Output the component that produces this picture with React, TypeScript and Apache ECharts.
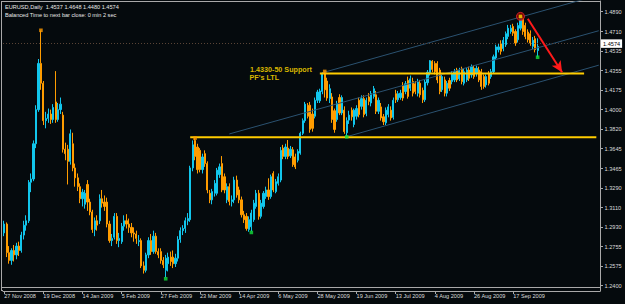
import React, { useEffect, useRef } from "react";
import * as echarts from "echarts";

// ---------- data ----------
const symbolTitle = "EURUSD,Daily  1.4537 1.4648 1.4480 1.4574";
const timerTitle = "Balanced Time to next bar close: 0 min 2 sec";
const dateLabels = [
  "27 Nov 2008", "19 Dec 2008", "14 Jan 2009", "5 Feb 2009", "27 Feb 2009",
  "23 Mar 2009", "14 Apr 2009", "6 May 2009", "28 May 2009", "19 Jun 2009",
  "13 Jul 2009", "4 Aug 2009", "26 Aug 2009", "17 Sep 2009",
];
const BARS_PER_LABEL = 16;
const SLOT_COUNT = 244; // daily bars plus the empty shift on the right

const priceTicks = [
  1.24, 1.2575, 1.2755, 1.293, 1.311, 1.329, 1.3465, 1.3645, 1.382, 1.4,
  1.4175, 1.4355, 1.4535, 1.471, 1.489,
];
const Y_MIN = 1.23518;
const Y_MAX = 1.49872;

// candles: [open, close, low, high]
const candlesNovDec = [
  [1.288, 1.296, 1.285, 1.299], [1.296, 1.27, 1.266, 1.2975], [1.27, 1.263, 1.26, 1.276],
  [1.263, 1.272, 1.259, 1.274], [1.272, 1.268, 1.262, 1.277], [1.268, 1.276, 1.264, 1.279],
  [1.276, 1.272, 1.267, 1.28], [1.272, 1.286, 1.27, 1.289], [1.286, 1.295, 1.282, 1.299],
  [1.295, 1.299, 1.29, 1.304], [1.299, 1.334, 1.297, 1.336], [1.334, 1.337, 1.325, 1.342],
  [1.337, 1.369, 1.335, 1.372], [1.369, 1.4, 1.365, 1.404], [1.4, 1.442, 1.398, 1.446],
  [1.442, 1.424, 1.418, 1.4719], [1.424, 1.39, 1.386, 1.426], [1.39, 1.392, 1.383, 1.398],
  [1.392, 1.396, 1.388, 1.401], [1.396, 1.391, 1.387, 1.4], [1.391, 1.402, 1.388, 1.405],
  [1.407, 1.391, 1.388, 1.435], [1.391, 1.4, 1.389, 1.406], [1.4, 1.405, 1.396, 1.411],
];
const candlesJanFeb = [
  [1.395, 1.364, 1.361, 1.398], [1.364, 1.36, 1.354, 1.37], [1.364, 1.353, 1.332, 1.368],
  [1.353, 1.378, 1.35, 1.382], [1.369, 1.347, 1.344, 1.379], [1.347, 1.338, 1.33, 1.351],
  [1.338, 1.33, 1.326, 1.342], [1.33, 1.319, 1.315, 1.333], [1.319, 1.325, 1.312, 1.328],
  [1.314, 1.324, 1.31, 1.327], [1.332, 1.316, 1.308, 1.336], [1.316, 1.307, 1.304, 1.319],
  [1.307, 1.291, 1.288, 1.309], [1.291, 1.299, 1.285, 1.302], [1.299, 1.295, 1.29, 1.304],
  [1.299, 1.319, 1.296, 1.323], [1.319, 1.315, 1.311, 1.327], [1.316, 1.312, 1.308, 1.322],
  [1.316, 1.296, 1.293, 1.32], [1.296, 1.281, 1.279, 1.299], [1.281, 1.283, 1.276, 1.287],
  [1.284, 1.303, 1.282, 1.306], [1.303, 1.281, 1.278, 1.306], [1.281, 1.283, 1.275, 1.288],
  [1.28, 1.294, 1.278, 1.297], [1.294, 1.299, 1.29, 1.304], [1.299, 1.296, 1.292, 1.305],
  [1.296, 1.293, 1.288, 1.301], [1.293, 1.288, 1.284, 1.297], [1.288, 1.287, 1.28, 1.293],
  [1.287, 1.283, 1.278, 1.29], [1.28, 1.281, 1.276, 1.286],
];
const candlesFebMar = [
  [1.281, 1.258, 1.256, 1.283], [1.258, 1.254, 1.251, 1.262], [1.254, 1.268, 1.252, 1.27],
  [1.268, 1.281, 1.265, 1.284], [1.281, 1.271, 1.268, 1.287], [1.271, 1.285, 1.269, 1.29],
  [1.285, 1.271, 1.269, 1.288], [1.271, 1.268, 1.265, 1.274], [1.271, 1.263, 1.26, 1.274],
  [1.263, 1.259, 1.256, 1.266], [1.254, 1.265, 1.2475, 1.268], [1.26, 1.266, 1.253, 1.27],
  [1.266, 1.262, 1.258, 1.271], [1.266, 1.26, 1.256, 1.272], [1.26, 1.265, 1.257, 1.269],
  [1.265, 1.282, 1.262, 1.285], [1.282, 1.29, 1.279, 1.293], [1.29, 1.292, 1.286, 1.295],
  [1.292, 1.299, 1.288, 1.302], [1.299, 1.301, 1.295, 1.306], [1.3, 1.347, 1.298, 1.349],
  [1.347, 1.368, 1.344, 1.372],
];
const candlesMarMay = [
  [1.372, 1.3575, 1.354, 1.3739], [1.366, 1.3455, 1.342, 1.369], [1.363, 1.3455, 1.343, 1.365],
  [1.3455, 1.357, 1.342, 1.36], [1.36, 1.351, 1.348, 1.363], [1.351, 1.327, 1.324, 1.353],
  [1.324, 1.318, 1.315, 1.327], [1.318, 1.3255, 1.314, 1.328], [1.324, 1.333, 1.321, 1.336],
  [1.324, 1.345, 1.322, 1.347], [1.341, 1.348, 1.338, 1.351], [1.351, 1.327, 1.325, 1.3578],
  [1.339, 1.327, 1.324, 1.342], [1.318, 1.33, 1.315, 1.333], [1.33, 1.3165, 1.313, 1.333],
  [1.3165, 1.318, 1.312, 1.322], [1.318, 1.336, 1.315, 1.339], [1.336, 1.3225, 1.32, 1.34],
  [1.327, 1.318, 1.315, 1.33], [1.318, 1.3045, 1.302, 1.321], [1.3045, 1.3, 1.297, 1.308],
  [1.303, 1.292, 1.29, 1.306], [1.291, 1.3, 1.289, 1.303], [1.2935, 1.306, 1.2895, 1.309],
  [1.3, 1.315, 1.298, 1.318], [1.312, 1.324, 1.31, 1.327], [1.324, 1.303, 1.3, 1.327],
  [1.303, 1.315, 1.301, 1.318], [1.312, 1.324, 1.31, 1.326], [1.321, 1.327, 1.319, 1.33],
  [1.327, 1.321, 1.318, 1.3376], [1.321, 1.339, 1.319, 1.341], [1.342, 1.327, 1.325, 1.344],
  [1.3255, 1.3345, 1.324, 1.337], [1.333, 1.339, 1.331, 1.342], [1.336, 1.363, 1.334, 1.366],
  [1.365, 1.3575, 1.355, 1.368], [1.3575, 1.366, 1.355, 1.369], [1.365, 1.3575, 1.355, 1.3724],
  [1.358, 1.364, 1.356, 1.367], [1.3635, 1.35, 1.348, 1.366], [1.357, 1.348, 1.346, 1.36],
  [1.354, 1.362, 1.352, 1.364], [1.3605, 1.3785, 1.359, 1.38], [1.3785, 1.39, 1.377, 1.392],
];
const candlesMayJun = [
  [1.39, 1.405, 1.388, 1.407], [1.404, 1.394, 1.392, 1.406], [1.404, 1.382, 1.379, 1.407],
  [1.396, 1.383, 1.38, 1.401], [1.394, 1.4085, 1.392, 1.411], [1.4085, 1.416, 1.406, 1.418],
  [1.408, 1.417, 1.406, 1.419], [1.4165, 1.433, 1.414, 1.434], [1.433, 1.418, 1.411, 1.4345],
  [1.426, 1.4105, 1.408, 1.429], [1.41, 1.419, 1.406, 1.423], [1.4115, 1.391, 1.388, 1.415],
  [1.399, 1.382, 1.379, 1.401], [1.391, 1.4055, 1.389, 1.408], [1.411, 1.397, 1.395, 1.414],
  [1.397, 1.411, 1.395, 1.413], [1.3995, 1.38, 1.378, 1.403], [1.379, 1.39, 1.376, 1.393],
];
const candlesJunJul = [
  [1.3905, 1.395, 1.387, 1.399], [1.3995, 1.3935, 1.39, 1.402], [1.3865, 1.3995, 1.384, 1.401],
  [1.394, 1.401, 1.391, 1.404], [1.4085, 1.3955, 1.393, 1.411], [1.403, 1.41, 1.4, 1.413],
  [1.41, 1.3955, 1.393, 1.413], [1.3965, 1.4085, 1.394, 1.411], [1.4115, 1.4075, 1.404, 1.415],
  [1.406, 1.4145, 1.403, 1.417], [1.412, 1.419, 1.41, 1.4215], [1.4135, 1.3985, 1.396, 1.417],
  [1.3985, 1.4085, 1.396, 1.411], [1.4025, 1.3925, 1.39, 1.406], [1.3935, 1.389, 1.386, 1.396],
  [1.388, 1.3995, 1.386, 1.402], [1.3955, 1.4025, 1.393, 1.405], [1.3995, 1.3925, 1.39, 1.403],
  [1.393, 1.4085, 1.391, 1.411], [1.4145, 1.409, 1.406, 1.418], [1.409, 1.4145, 1.407, 1.417],
  [1.411, 1.415, 1.409, 1.418], [1.422, 1.4105, 1.408, 1.425], [1.4165, 1.4235, 1.414, 1.426],
  [1.4265, 1.412, 1.41, 1.43], [1.4195, 1.428, 1.417, 1.431], [1.4255, 1.415, 1.412, 1.429],
  [1.4235, 1.4165, 1.414, 1.426], [1.415, 1.425, 1.412, 1.428], [1.424, 1.4135, 1.411, 1.427],
  [1.4175, 1.409, 1.406, 1.42], [1.409, 1.425, 1.407, 1.427], [1.4245, 1.434, 1.422, 1.436],
];
const candlesAugSep = [
  [1.4335, 1.4445, 1.431, 1.4451], [1.444, 1.4365, 1.434, 1.445], [1.442, 1.4345, 1.432, 1.444],
  [1.442, 1.427, 1.424, 1.444], [1.436, 1.4165, 1.414, 1.438], [1.418, 1.43, 1.416, 1.432],
  [1.427, 1.415, 1.412, 1.43], [1.415, 1.424, 1.412, 1.426], [1.4265, 1.4195, 1.417, 1.429],
  [1.4255, 1.433, 1.423, 1.435], [1.427, 1.4345, 1.425, 1.437], [1.436, 1.427, 1.425, 1.438],
  [1.428, 1.4355, 1.426, 1.438], [1.437, 1.4255, 1.423, 1.439], [1.424, 1.4345, 1.422, 1.437],
  [1.427, 1.436, 1.425, 1.438], [1.436, 1.4285, 1.426, 1.439], [1.4315, 1.439, 1.429, 1.441],
  [1.4375, 1.43, 1.428, 1.44], [1.433, 1.4375, 1.43, 1.44], [1.436, 1.427, 1.425, 1.439],
  [1.4345, 1.421, 1.418, 1.437], [1.43, 1.421, 1.419, 1.432], [1.4225, 1.43, 1.42, 1.432],
  [1.433, 1.424, 1.422, 1.435], [1.43, 1.4345, 1.428, 1.437], [1.4345, 1.448, 1.433, 1.45],
  [1.447, 1.457, 1.445, 1.459], [1.4545, 1.457, 1.452, 1.46], [1.46, 1.453, 1.45, 1.463],
  [1.4555, 1.463, 1.453, 1.466], [1.459, 1.469, 1.457, 1.471], [1.4665, 1.474, 1.464, 1.477],
  [1.471, 1.474, 1.469, 1.477], [1.4755, 1.4695, 1.467, 1.478], [1.471, 1.4605, 1.458, 1.473],
  [1.4635, 1.4765, 1.461, 1.479], [1.474, 1.483, 1.472, 1.4845], [1.483, 1.471, 1.468, 1.4843],
  [1.4765, 1.4665, 1.464, 1.479], [1.4705, 1.4635, 1.461, 1.473], [1.469, 1.4605, 1.458, 1.472],
  [1.4575, 1.463, 1.455, 1.466], [1.4645, 1.4545, 1.452, 1.467], [1.4537, 1.4574, 1.448, 1.4648],
];
const candles = [
  ...candlesNovDec, ...candlesJanFeb, ...candlesFebMar, ...candlesMarMay,
  ...candlesMayJun, ...candlesJunJul, ...candlesAugSep,
];

// markers: [bar index, price]
const fractalHighs = [[15, 1.4721], [78, 1.3741], [131, 1.4347]];
const fractalLows = [[66, 1.2463], [101, 1.2884], [140, 1.3753], [218, 1.4476]];
const topMarker = [[211, 1.4847]];

// drawn objects: [bar index, price]
const supportUpper = [[129, 1.4328], [237, 1.4328]];
const supportLower = [[76, 1.3748], [242, 1.3748]];
const channelTop = [[130, 1.4335], [243, 1.5041]];
const channelMid = [[92, 1.3779], [243, 1.4717]];
const channelLow = [[140, 1.3754], [243, 1.4404]];
const arrowFrom = [214, 1.4826];
const arrowTo = [228, 1.434];
const supportText = ["1.4330-50 Support", "PF's LTL"];

// ---------- styles ----------
const BG = "#050a0d";
const BULL = "#12c6ec";
const BEAR = "#ff9c00";
const FRAME = "#a9a9a9";
const AXIS_TEXT = "#dcdcdc";
const YELLOW = "#ffcc00";
const CHANNEL = "#2b5270";
const FONT = "Liberation Sans";

export default function App() {
  const ref = useRef<HTMLDivElement>(null);

  useEffect(() => {
    if (!ref.current) return;
    const chart = echarts.init(ref.current, null, { renderer: "svg" });
    const slots = Array.from({ length: SLOT_COUNT }, (_, i) => String(i));
    const showLabel = (index: number) =>
      index % BARS_PER_LABEL === 0 && index / BARS_PER_LABEL < dateLabels.length;
    const lastClose = candles[candles.length - 1][1];

    const lineSeries = (data: number[][], color: string, width: number, extra: any = {}) => ({
      type: "line",
      data,
      symbol: "none",
      silent: true,
      clip: true,
      z: 3,
      lineStyle: { color, width },
      ...extra,
    });

    chart.setOption({
      animation: false,
      backgroundColor: BG,
      grid: { left: 3, right: 25, top: 1, bottom: 13 },
      xAxis: {
        type: "category",
        data: slots,
        boundaryGap: true,
        axisLine: { show: true, lineStyle: { color: FRAME, width: 1 } },
        axisTick: {
          show: true,
          alignWithLabel: true,
          length: 3,
          interval: (index: number) => showLabel(index),
          lineStyle: { color: FRAME },
        },
        axisLabel: {
          interval: (index: number) => showLabel(index),
          formatter: (_v: string, index: number) =>
            showLabel(index) ? dateLabels[index / BARS_PER_LABEL] : "",
          color: AXIS_TEXT,
          fontSize: 5.6,
          fontFamily: FONT,
          align: "left",
          margin: 2,
        },
        splitLine: { show: false },
      },
      yAxis: {
        type: "value",
        position: "right",
        min: Y_MIN,
        max: Y_MAX,
        scale: true,
        axisLine: { show: true, lineStyle: { color: FRAME, width: 1 } },
        axisTick: { show: true, length: 3, customValues: priceTicks, lineStyle: { color: FRAME } },
        axisLabel: {
          customValues: priceTicks,
          formatter: (v: number) => v.toFixed(4),
          color: AXIS_TEXT,
          fontSize: 5.6,
          fontFamily: FONT,
          margin: 4.5,
        },
        splitLine: { show: false },
      },
      series: [
        {
          type: "candlestick",
          data: candles,
          barWidth: 1.7,
          z: 2,
          itemStyle: {
            color: BULL,
            color0: BEAR,
            borderColor: BULL,
            borderColor0: BEAR,
            borderWidth: 1,
          },
          markLine: {
            silent: true,
            symbol: "none",
            data: [{ yAxis: lastClose }],
            lineStyle: { color: "#5a4436", width: 1, type: [1, 2] },
            label: {
              show: true,
              position: "end",
              distance: 1,
              formatter: lastClose.toFixed(4),
              backgroundColor: "#ffffff",
              color: "#000000",
              fontSize: 5.6,
              fontFamily: FONT,
              padding: [1.5, 2, 1, 2],
            },
          },
        },
        lineSeries(channelTop, CHANNEL, 1),
        lineSeries(channelMid, CHANNEL, 1),
        lineSeries(channelLow, CHANNEL, 1),
        lineSeries(supportLower, YELLOW, 2),
        lineSeries(supportUpper, YELLOW, 2, {
          markLine: {
            silent: true,
            symbol: ["none", "arrow"],
            symbolSize: [8, 11],
            label: { show: false },
            lineStyle: { color: "#ff1a1a", width: 2, type: "solid" },
            data: [[{ coord: arrowFrom }, { coord: arrowTo }]],
          },
        }),
        {
          type: "scatter",
          data: topMarker,
          symbol: "circle",
          symbolSize: 8,
          z: 5,
          silent: true,
          itemStyle: { color: "#8a0000", borderColor: "#ff2a2a", borderWidth: 1 },
        },
        {
          type: "scatter",
          data: topMarker,
          symbol: "rect",
          symbolSize: 3.5,
          z: 6,
          silent: true,
          itemStyle: { color: "#ffe000" },
        },
        {
          type: "scatter",
          data: fractalHighs,
          symbol: "rect",
          symbolSize: 3.6,
          z: 5,
          silent: true,
          itemStyle: { color: "#ff9a00" },
        },
        {
          type: "scatter",
          data: fractalLows,
          symbol: "rect",
          symbolSize: 3.6,
          z: 5,
          silent: true,
          itemStyle: { color: "#12e03a" },
        },
      ],
      graphic: [
        { type: "line", shape: { x1: 1.5, y1: 1, x2: 1.5, y2: 291 }, style: { stroke: FRAME, lineWidth: 1 }, silent: true },
        { type: "line", shape: { x1: 1, y1: 1.5, x2: 600, y2: 1.5 }, style: { stroke: FRAME, lineWidth: 1 }, silent: true },
        { type: "line", shape: { x1: 1, y1: 287.5, x2: 600, y2: 287.5 }, style: { stroke: FRAME, lineWidth: 1 }, silent: true },
        { type: "line", shape: { x1: 1, y1: 290.5, x2: 3, y2: 290.5 }, style: { stroke: FRAME, lineWidth: 1 }, silent: true },
        {
          type: "text", left: 5, top: 3.8, silent: true,
          style: { text: symbolTitle, fill: "#e8e8e8", fontSize: 5.6, fontFamily: FONT },
        },
        {
          type: "text", left: 5, top: 11.8, silent: true,
          style: { text: timerTitle, fill: "#e8e8e8", fontSize: 5.6, fontFamily: FONT },
        },
        {
          type: "text", left: 250, top: 66.4, silent: true,
          style: { text: supportText[0], fill: "#d9b800", fontSize: 7.2, fontWeight: "bold", fontFamily: FONT },
        },
        {
          type: "text", left: 249.5, top: 74.2, silent: true,
          style: { text: supportText[1], fill: "#d9b800", fontSize: 7.2, fontWeight: "bold", fontFamily: FONT },
        },
      ],
    });
    return () => chart.dispose();
  }, []);

  return (
    <div
      ref={ref}
      style={{ position: "fixed", left: 0, top: 0, width: 625, height: 304, background: BG }}
    />
  );
}
